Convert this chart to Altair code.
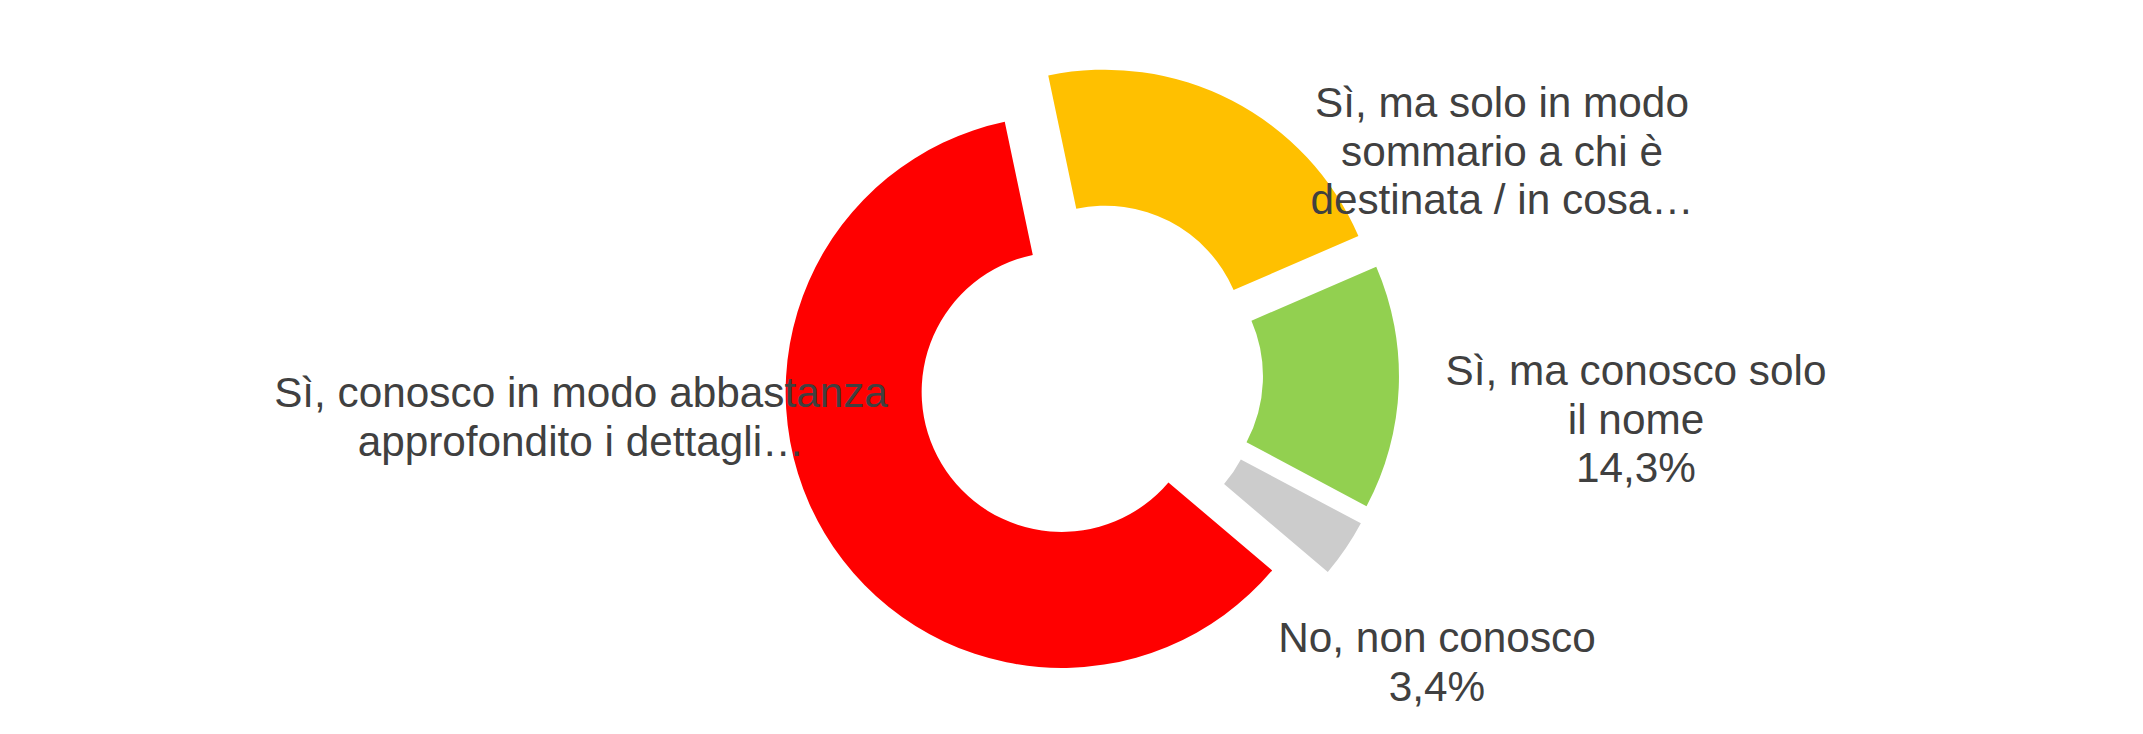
import math
import altair as alt
import pandas as pd

# ---- data ----
categories = [
    "Sì, ma solo in modo sommario a chi è destinata / in cosa…",
    "Sì, ma conosco solo il nome",
    "No, non conosco",
    "Sì, conosco in modo abbastanza approfondito i dettagli…",
]
values = [21.8, 14.3, 3.4, 60.5]
colors = ["#FFC000", "#92D050", "#CCCCCC", "#FF0000"]

label_texts = [
    ["Sì, ma solo in modo", "sommario a chi è", "destinata / in cosa…"],
    ["Sì, ma conosco solo", "il nome", "14,3%"],
    ["No, non conosco", "3,4%"],
    ["Sì, conosco in modo abbastanza", "approfondito i dettagli…"],
]

# ---- layout ----
W, H = 2127, 718
CX, CY = 1082, 367          # pie centre (chart coords)
R_OUT, R_IN = 276, 140
EXPLODE = 33
START_DEG = -11.9
label_pos = [(1494, 109), (1628, 377), (1429, 644), (573, 399)]  # first-line baselines

slices = pd.DataFrame({
    "name": categories,
    "value": values,
    "idx": list(range(len(categories))),
})

a0 = math.radians(START_DEG)

pie = (
    alt.Chart(slices)
    .transform_window(cum="sum(value)", sort=[alt.SortField("idx")], frame=[None, 0])
    .transform_joinaggregate(total="sum(value)")
    .transform_calculate(
        t1=f"{a0} + 2*PI*(datum.cum - datum.value)/datum.total",
        t2=f"{a0} + 2*PI*datum.cum/datum.total",
    )
    .transform_calculate(mid="(datum.t1 + datum.t2)/2")
    .transform_calculate(
        px=f"{CX} + {EXPLODE}*sin(datum.mid)",
        py=f"{CY} - {EXPLODE}*cos(datum.mid)",
    )
    .mark_arc(outerRadius=R_OUT, innerRadius=R_IN)
    .encode(
        theta=alt.Theta("t1:Q", scale=None),
        theta2="t2:Q",
        x=alt.X("px:Q", scale=None),
        y=alt.Y("py:Q", scale=None),
        color=alt.Color(
            "name:N",
            scale=alt.Scale(domain=categories, range=colors),
            legend=None,
        ),
    )
)

labels_df = pd.DataFrame({
    "txt": label_texts,
    "lx": [p[0] for p in label_pos],
    "ly": [p[1] for p in label_pos],
})

labels = (
    alt.Chart(labels_df)
    .mark_text(
        font="Liberation Sans",
        fontSize=42.3,
        lineHeight=48.5,
        color="#404040",
        align="center",
        baseline="alphabetic",
    )
    .encode(
        x=alt.X("lx:Q", scale=None),
        y=alt.Y("ly:Q", scale=None),
        text="txt",
    )
)

chart = (
    alt.layer(pie, labels)
    .properties(width=W, height=H, padding=0, autosize=alt.AutoSizeParams(type="none"))
    .configure_view(stroke=None)
)

chart.save("out.html", embed_options={"renderer": "svg", "actions": False})
